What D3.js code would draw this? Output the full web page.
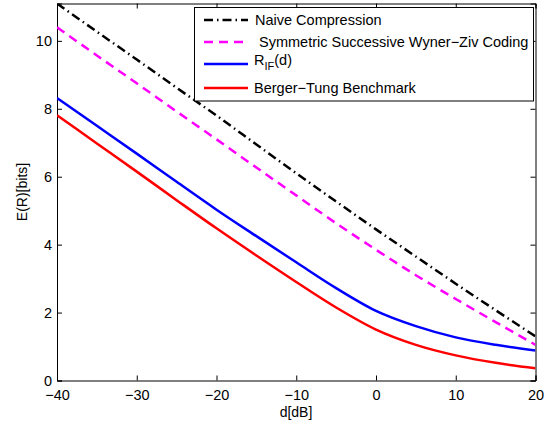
<!DOCTYPE html>
<html lang="en">
<head>
<meta charset="utf-8">
<title>E(R) vs d</title>
<script src="https://cdn.jsdelivr.net/npm/d3@7"></script>
<style>
  body { margin: 0; background: #fff; }
  text { font-family: "Liberation Sans", Arial, sans-serif; fill: #000; }
</style>
</head>
<body>
<script>
// values, every 5 dB
var dB = [-40, -35, -30, -25, -20, -15, -10, -5, 0, 5, 10, 15, 20];
var naive = [11.1, 10.27, 9.45, 8.62, 7.8, 6.95, 6.1, 5.27, 4.45, 3.65, 2.85, 2.07, 1.3];
var symWZ = [10.4, 9.57, 8.75, 7.92, 7.1, 6.27, 5.45, 4.63, 3.85, 3.1, 2.4, 1.72, 1.05];
var rIF = [8.32, 7.5, 6.68, 5.85, 5.03, 4.25, 3.48, 2.72, 2.05, 1.6, 1.27, 1.05, 0.88];
var bergerTung = [7.81, 6.98, 6.15, 5.31, 4.48, 3.68, 2.9, 2.15, 1.5, 1.05, 0.74, 0.52, 0.36];

var xTicks = [-40, -30, -20, -10, 0, 10, 20];
var yTicks = [0, 2, 4, 6, 8, 10];

var series = [
  {name: "Naive Compression", values: naive, color: "#000000", dash: "9,4,1.5,4", w: 2.5},
  {name: "Symmetric Successive Wyner\u2212Ziv Coding", values: symWZ, color: "#ff00ff", dash: "9,6", w: 2.5},
  {name: "R_IF", values: rIF, color: "#0000ff", dash: null, w: 2.5},
  {name: "Berger\u2212Tung Benchmark", values: bergerTung, color: "#ff0000", dash: null, w: 2.5}
];

var W = 551, H = 423;
var m = {left: 57, right: 15.5, top: 3.5, bottom: 42.5};

var svg = d3.select("body").append("svg").attr("width", W).attr("height", H);

var x = d3.scaleLinear().domain([-40, 20]).range([m.left, W - m.right]);
var y = d3.scaleLinear().domain([0, 11.1]).range([H - m.bottom, m.top]);

svg.append("clipPath").attr("id", "clip").append("rect")
  .attr("x", x(-40)).attr("y", y(11.1))
  .attr("width", x(20) - x(-40)).attr("height", y(0) - y(11.1));

// axes, ticks inward on all sides
var tl = 5;
var fmt = function(d){ return d < 0 ? "\u2212" + Math.abs(d) : "" + d; };
svg.append("g").attr("transform", "translate(0," + y(0) + ")")
  .call(d3.axisBottom(x).tickValues(xTicks).tickSize(-tl).tickPadding(9).tickFormat(fmt));
svg.append("g").attr("transform", "translate(0," + y(11.1) + ")")
  .call(d3.axisTop(x).tickValues(xTicks).tickSize(-tl).tickFormat(""));
svg.append("g").attr("transform", "translate(" + x(-40) + ",0)")
  .call(d3.axisLeft(y).tickValues(yTicks).tickSize(-tl).tickPadding(5).tickFormat(fmt));
svg.append("g").attr("transform", "translate(" + x(20) + ",0)")
  .call(d3.axisRight(y).tickValues(yTicks).tickSize(-tl).tickFormat(""));
svg.selectAll(".domain").attr("stroke", "#000").attr("stroke-width", 1);
svg.selectAll(".tick line").attr("stroke", "#000");
svg.selectAll(".tick text").style("font-size", "14.5px").style("font-family", "'Liberation Sans', Arial, sans-serif");

// curves
var line = d3.line()
  .x(function(d){ return x(d[0]); })
  .y(function(d){ return y(d[1]); })
  .curve(d3.curveMonotoneX);

svg.append("g").attr("clip-path", "url(#clip)")
  .selectAll("path").data(series).enter().append("path")
  .attr("fill", "none")
  .attr("stroke", function(s){ return s.color; })
  .attr("stroke-width", function(s){ return s.w; })
  .attr("stroke-dasharray", function(s){ return s.dash; })
  .attr("d", function(s){ return line(dB.map(function(v, i){ return [v, s.values[i]]; })); });

// axis labels
svg.append("text").attr("x", 296).attr("y", 416.5).attr("text-anchor", "middle")
  .style("font-size", "14px").text("d[dB]");
svg.append("text").attr("transform", "translate(27,192) rotate(-90)").attr("text-anchor", "middle")
  .style("font-size", "14px").text("E(R)[bits]");

// legend
var lg = svg.append("g");
lg.append("rect").attr("x", 194.5).attr("y", 7.5).attr("width", 339).attr("height", 93.5)
  .attr("fill", "#fff").attr("stroke", "#000").attr("stroke-width", 1);
var rowY = [20, 42, 64, 88];
var textX = [255, 259, 254, 254];
series.forEach(function(s, i){
  lg.append("line").attr("x1", 204).attr("x2", 248).attr("y1", rowY[i]).attr("y2", rowY[i])
    .attr("stroke", s.color).attr("stroke-width", s.w).attr("stroke-dasharray", s.dash);
  var t = lg.append("text").attr("x", textX[i]).attr("y", rowY[i] + 5).style("font-size", "14.5px");
  if (s.name === "R_IF") {
    t.attr("y", rowY[i] + 1);
    t.append("tspan").text("R");
    t.append("tspan").attr("dy", 5).style("font-size", "11px").text("IF");
    t.append("tspan").attr("dy", -5).text("(d)");
  } else {
    t.text(s.name);
  }
});
</script>
</body>
</html>
